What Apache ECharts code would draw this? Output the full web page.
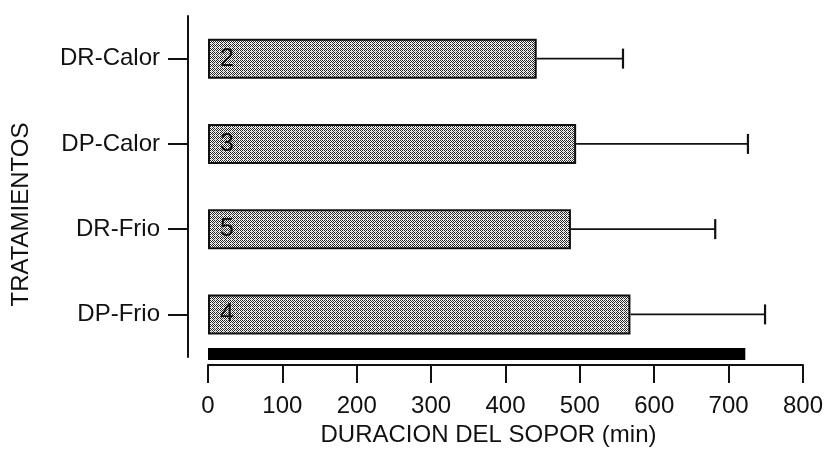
<!DOCTYPE html>
<html>
<head>
<meta charset="utf-8">
<script src="https://cdn.jsdelivr.net/npm/echarts@6/dist/echarts.min.js"></script>
<style>
  html, body { margin: 0; padding: 0; background: #fff; }
  #chart { width: 826px; height: 453px; }
</style>
</head>
<body>
<div id="chart"></div>
<script>
// Treatments, listed top to bottom
const categories = ['DR-Calor', 'DP-Calor', 'DR-Frio', 'DP-Frio'];
// Mean torpor duration (min)
const meanValues = [442, 495, 488, 568];
// Standard deviation (min), drawn as one-sided error bars
const sdValues = [116, 231, 194, 181];
// Number of animals per treatment (printed inside each bar)
const sampleSizes = [2, 3, 5, 4];
// Dark period reference bar (min)
const darkPeriod = [720];
// X axis range and step
const xMin = 0;
const xMax = 800;
const xStep = 100;

const FONT = 'Liberation Sans, Arial, sans-serif';
const INK = '#111';

// Halftone-like grey fill for the bars
function makeDither() {
  const c = document.createElement('canvas');
  c.width = 4; c.height = 4;
  const g = c.getContext('2d');
  g.fillStyle = '#fafafa';
  g.fillRect(0, 0, 4, 4);
  g.fillStyle = '#262626';
  const dots = [[0,0],[2,0],[1,1],[3,1],[0,2],[2,2],[1,3]];
  dots.forEach(([x, y]) => g.fillRect(x, y, 1, 1));
  // softer dot so the tone is not perfectly even
  g.fillStyle = '#b0b0b0';
  g.fillRect(3, 3, 1, 1);
  return c;
}
const dither = makeDither();

const errorData = categories.map((c, i) => [meanValues[i], i, meanValues[i] + sdValues[i]]);

const chart = echarts.init(document.getElementById('chart'), null, { renderer: 'canvas' });

chart.setOption({
  animation: false,
  backgroundColor: '#fff',
  grid: [
    { left: 208, right: 21, top: 16, height: 341 },
    { left: 208, right: 21, top: 348, height: 12 }
  ],
  xAxis: [
    {
      gridIndex: 0,
      type: 'value',
      min: xMin, max: xMax, interval: xStep,
      offset: 8,
      name: 'DURACION DEL SOPOR (min)',
      nameLocation: 'middle',
      nameGap: 57,
      nameTextStyle: { fontFamily: FONT, fontSize: 24, color: INK, padding: [0, 34, 0, 0] },
      axisLine: { show: true, onZero: false, lineStyle: { color: INK, width: 2 } },
      axisTick: { show: true, inside: false, length: 18, lineStyle: { color: INK, width: 2 } },
      axisLabel: { fontFamily: FONT, fontSize: 24, color: INK, margin: 29 },
      splitLine: { show: false }
    },
    {
      gridIndex: 1,
      type: 'value',
      min: xMin, max: xMax,
      show: false
    }
  ],
  yAxis: [
    {
      gridIndex: 0,
      type: 'category',
      data: categories,
      inverse: true,
      offset: 20,
      name: 'TRATAMIENTOS',
      nameLocation: 'middle',
      nameGap: 155,
      nameTextStyle: { fontFamily: FONT, fontSize: 24, color: INK, padding: [0, 56, 0, 0] },
      axisLine: { show: true, onZero: false, lineStyle: { color: INK, width: 2 } },
      axisTick: { show: true, alignWithLabel: true, length: 20, lineStyle: { color: INK, width: 2 } },
      axisLabel: { fontFamily: FONT, fontSize: 24, color: INK, margin: 28 }
    },
    {
      gridIndex: 1,
      type: 'category',
      data: ['oscuridad'],
      show: false
    }
  ],
  series: [
    {
      type: 'bar',
      xAxisIndex: 0,
      yAxisIndex: 0,
      data: meanValues,
      barWidth: 40,
      itemStyle: {
        color: { image: dither, repeat: 'repeat' },
        borderColor: INK,
        borderWidth: 2
      },
      label: {
        show: true,
        position: 'insideLeft',
        distance: 12,
        fontFamily: FONT,
        fontSize: 25,
        color: INK,
        formatter: (p) => String(sampleSizes[p.dataIndex])
      },
      z: 3
    },
    {
      type: 'custom',
      xAxisIndex: 0,
      yAxisIndex: 0,
      data: errorData,
      encode: { x: [0, 2], y: 1 },
      renderItem: function (params, api) {
        const start = api.coord([api.value(0), api.value(1)]);
        const end = api.coord([api.value(2), api.value(1)]);
        const cap = 10;
        return {
          type: 'group',
          children: [
            { type: 'line', shape: { x1: start[0], y1: start[1], x2: end[0], y2: end[1] }, style: { stroke: INK, lineWidth: 1.6, fill: null } },
            { type: 'line', shape: { x1: end[0], y1: end[1] - cap, x2: end[0], y2: end[1] + cap }, style: { stroke: INK, lineWidth: 2.2, fill: null } }
          ]
        };
      },
      z: 2
    },
    {
      type: 'bar',
      xAxisIndex: 1,
      yAxisIndex: 1,
      data: darkPeriod,
      barWidth: 12,
      itemStyle: { color: '#000' }
    }
  ]
});
</script>
</body>
</html>
